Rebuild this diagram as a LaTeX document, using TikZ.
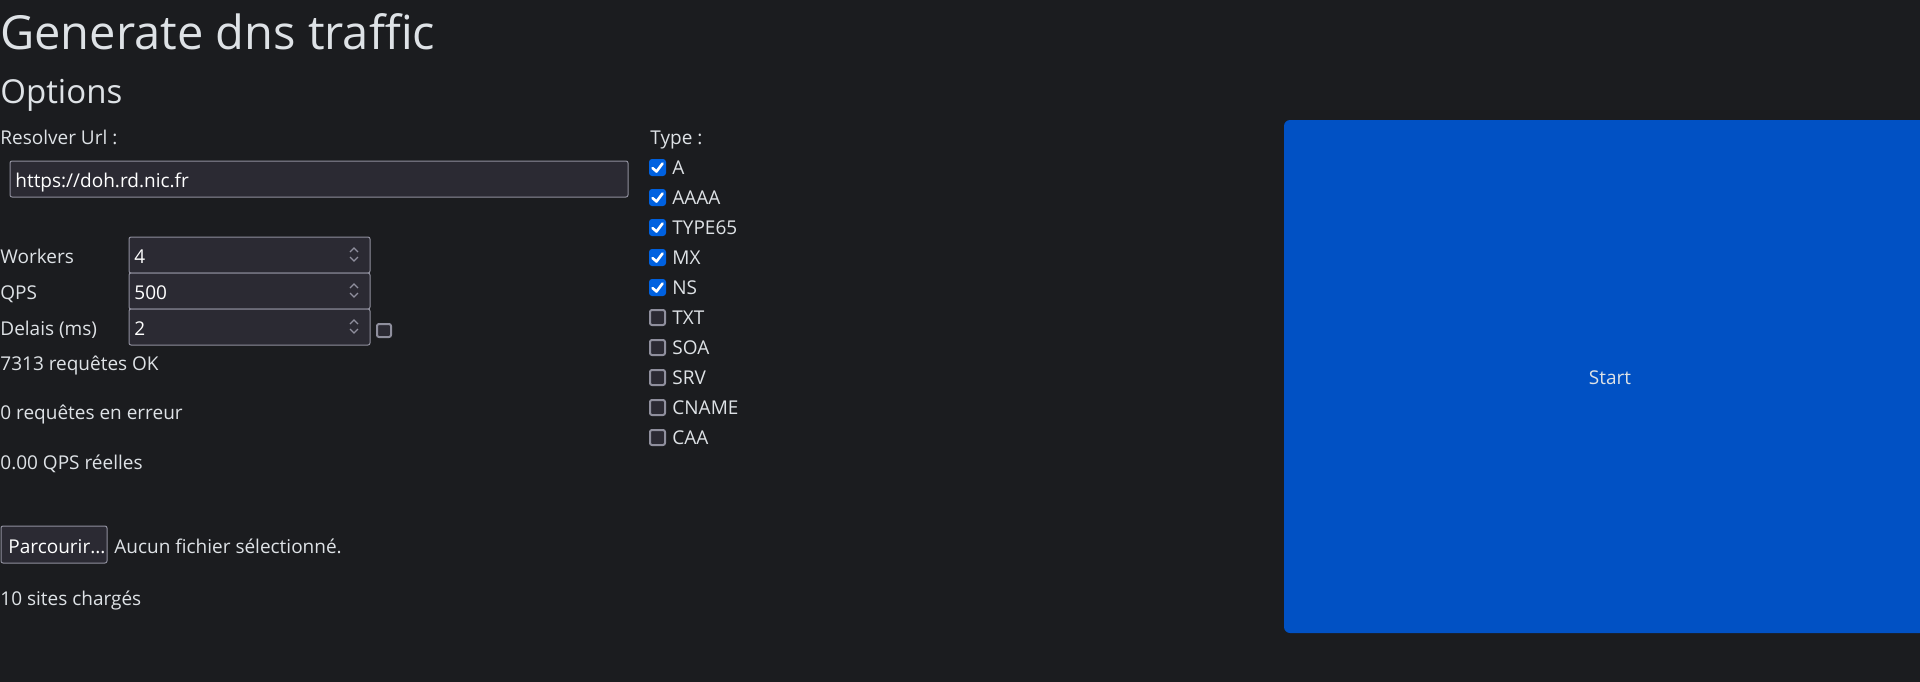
\documentclass[tikz,border=0pt]{standalone}
\usepackage{fontspec}
\setmainfont{Open Sans}
\usetikzlibrary{calc}

\definecolor{pagebg}{RGB}{27,28,31}
\definecolor{fg}{RGB}{222,226,230}
\definecolor{inputbg}{RGB}{43,42,51}
\definecolor{inputline}{RGB}{143,143,157}
\definecolor{checkblue}{RGB}{0,97,224}
\definecolor{startblue}{RGB}{1,81,196}

\tikzset{
  txt/.style={anchor=base west, inner sep=0pt, text=fg, font=\fontsize{9.5}{11}\selectfont},
  field/.style={fill=inputbg, draw=inputline, line width=0.5pt, rounded corners=1pt},
  boxoff/.style={fill=inputbg, draw=inputline, line width=1pt, rounded corners=1pt},
  tick/.style={draw=white, line width=1.3pt, line cap=round, line join=round},
  chev/.style={draw=inputline, line width=0.6pt},
}

\begin{document}
\begin{tikzpicture}[x=0.5pt,y=-0.5pt]
\useasboundingbox (0,0) rectangle (1920,681);
\fill[pagebg] (-10,-10) rectangle (1930,691);

\node[txt, font=\fontsize{23.5}{28}\selectfont] (title) at (0,49) {Generate dns traffic};
\node[txt, font=\fontsize{16.5}{20}\selectfont] (options) at (0,103) {Options};

% resolver
\node[txt] (urllbl) at (0,144) {Resolver Url :};
\draw[field] (10,161) rectangle (628,197);
\node[txt, text=white] (url) at (15,187) {https://doh.rd.nic.fr};

% number fields
\foreach \lbl/\val/\y [count=\i] in {Workers/4/237,QPS/500/273,Delais (ms)/2/309}{
  \draw[field] (129,\y) rectangle ++(241,36);
  \node[txt] (spinlbl\i) at (0,\y+26) {\lbl};
  \node[txt, text=white] (spinval\i) at (134,\y+26) {\val};
  \draw[chev] (350,\y+15) -- (354,\y+11) -- (358,\y+15);
  \draw[chev] (350,\y+20) -- (354,\y+24) -- (358,\y+20);
}
\draw[boxoff] (377,324) rectangle (391,337);

% counters
\node[txt] (okcount) at (0,370) {7313 requêtes OK};
\node[txt] (errcount) at (0,419) {0 requêtes en erreur};
\node[txt] (qpsreal) at (0,469) {0.00 QPS réelles};

% file input
\draw[field] (1,526) rectangle (107,563);
\node[txt, text=white] (browse) at (8,553) {Parcourir...};
\node[txt] (nofile) at (114,553) {Aucun fichier sélectionné.};
\node[txt] (sites) at (0,605) {10 sites chargés};

% record types
\node[txt] (typelbl) at (650,144) {Type :};
\foreach \t [count=\i from 0] in {A,AAAA,TYPE65,MX,NS}{
  \fill[checkblue, rounded corners=1.5pt] (649,159+30*\i) rectangle ++(17,17);
  \draw[tick] (652.5,168+30*\i) -- (656.5,171.5+30*\i) -- (662.5,163.5+30*\i);
  \node[txt] (type\t) at (672,174+30*\i) {\t};
}
\foreach \t [count=\i from 5] in {TXT,SOA,SRV,CNAME,CAA}{
  \draw[boxoff] (650,160+30*\i) rectangle ++(15,15);
  \node[txt] (type\t) at (672,174+30*\i) {\t};
}

% start button
\fill[startblue, rounded corners=3pt] (1284,120) rectangle (1940,633);
\node[txt, anchor=base] (start) at (1610,384) {Start};
\end{tikzpicture}
\end{document}
